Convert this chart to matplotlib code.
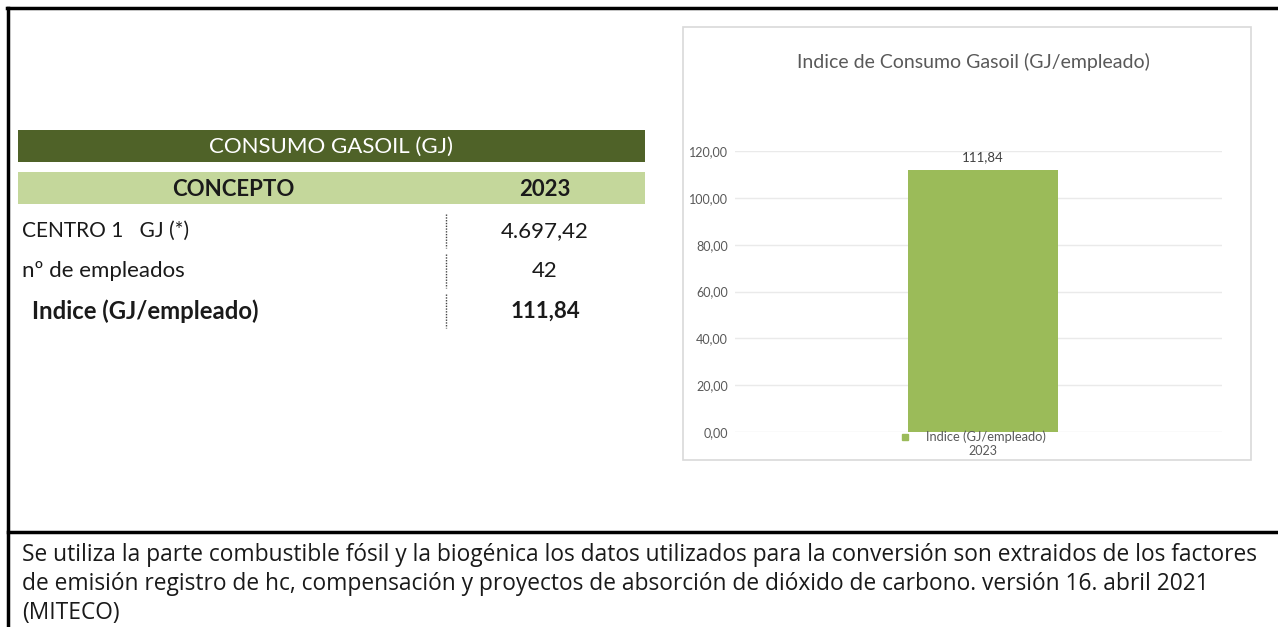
import matplotlib
matplotlib.use("Agg")
import matplotlib.pyplot as plt
from matplotlib.patches import Rectangle
from matplotlib.lines import Line2D

W, H = 1278, 627
plt.rcParams['font.family'] = ['Lato', 'DejaVu Sans']

# ---- data ----
table_title = "CONSUMO GASOIL (GJ)"
col_headers = ["CONCEPTO", "2023"]
row_labels = ["CENTRO 1   GJ (*)", "nº de empleados", "Indice (GJ/empleado)"]
row_values = ["4.697,42", "42", "111,84"]
chart_title = "Indice de Consumo Gasoil (GJ/empleado)"
categories = ["2023"]
series_name = "Indice (GJ/empleado)"
values = [111.84]
yticks = [0, 20, 40, 60, 80, 100, 120]
footnote = ("Se utiliza la parte combustible fósil y la biogénica los datos utilizados para la conversión son extraidos de los factores\n"
            "de emisión registro de hc, compensación y proyectos de absorción de dióxido de carbono. versión 16. abril 2021\n"
            "(MITECO)")

fig = plt.figure(figsize=(W / 100, H / 100), dpi=100)
fig.patch.set_facecolor("white")

def fx(x):
    return x / W

def fy(y):
    return 1 - y / H

# outer black frame lines
for (x0, y0, x1, y1) in [(7, 8, W, 8), (8, 8, 8, H), (8, 532, W, 532)]:
    fig.add_artist(Line2D([fx(x0), fx(x1)], [fy(y0), fy(y1)], color="black", lw=2.5,
                          transform=fig.transFigure))

# ---- table ----
TFS = 16
fig.add_artist(Rectangle((fx(18), fy(162)), fx(645) - fx(18), fy(130) - fy(162),
                         facecolor="#4F6228", edgecolor="none", transform=fig.transFigure))
fig.text(fx(331), fy(147), table_title, color="white", fontsize=TFS, ha="center", va="center")
fig.add_artist(Rectangle((fx(18), fy(204)), fx(645) - fx(18), fy(172) - fy(204),
                         facecolor="#C4D79B", edgecolor="none", transform=fig.transFigure))
fig.text(fx(233), fy(189), col_headers[0], color="#1a1a1a", fontsize=TFS, ha="center", va="center",
         fontweight="bold")
fig.text(fx(545), fy(189), col_headers[1], color="#1a1a1a", fontsize=TFS, ha="center", va="center",
         fontweight="bold")

row_y = [231, 271, 311]
row_fs = [15, 16, 17.2]
for i, (lab, val) in enumerate(zip(row_labels, row_values)):
    bold = (i == 2)
    fig.text(fx(32 if bold else 22), fy(row_y[i]), lab, color="#1a1a1a", fontsize=row_fs[i],
             ha="left", va="center", fontweight="bold" if bold else "normal")
    fig.text(fx(545), fy(row_y[i]), val, color="#1a1a1a", fontsize=TFS,
             ha="center", va="center", fontweight="bold" if bold else "normal")
    fig.add_artist(Line2D([fx(446), fx(446)], [fy(row_y[i] - 17), fy(row_y[i] + 17)],
                          color="#444444", lw=1.0, ls=(0, (1, 1)), transform=fig.transFigure))

# ---- chart box ----
box = Rectangle((fx(683), fy(460)), fx(1251) - fx(683), fy(27) - fy(460),
                facecolor="white", edgecolor="#D9D9D9", lw=1.2, transform=fig.transFigure,
                zorder=-5)
fig.add_artist(box)
fig.text(fx(973), fy(62), chart_title, color="#595959", fontsize=14, ha="center", va="center")

ax = fig.add_axes([fx(735), fy(432), fx(1222) - fx(735), fy(151) - fy(432)])
ax.set_zorder(5)
ax.set_facecolor("none")
ax.patch.set_alpha(0)
xpos = list(range(len(categories)))
ax.bar(xpos, values, width=1.0, color="#9BBB59", zorder=3)
ax.set_xlim(-1.653, 1.593)
ax.set_ylim(0, 120)
ax.set_yticks(yticks)
ax.set_yticklabels([f"{v:.2f}".replace(".", ",") for v in yticks], color="#595959", fontsize=9)
ax.tick_params(axis="y", length=0, pad=5)
ax.set_xticks([])
ax.grid(axis="y", color="#EAEAEA", lw=1, zorder=0)
for s in ax.spines.values():
    s.set_visible(False)
for x, v in zip(xpos, values):
    ax.text(x, v + 3.0, f"{v:.2f}".replace(".", ","), ha="center", va="bottom",
            color="#404040", fontsize=9.5, clip_on=False)
# legend-like label and category label under bar
ax.text(xpos[0] + 0.02, -2.2, series_name, ha="center", va="center", color="#595959", fontsize=9.3,
        clip_on=False)
ax.plot([xpos[0] - 0.52], [-2.2], marker="s", ms=5, color="#9BBB59", clip_on=False, ls="none")
ax.text(xpos[0], -8.2, categories[0], ha="center", va="center", color="#595959", fontsize=9,
        clip_on=False)

# ---- footnote ----
fig.text(fx(22), fy(543), footnote, color="#1a1a1a", fontsize=16.4, ha="left", va="top",
         linespacing=1.29, family=["Open Sans", "DejaVu Sans"])

fig.savefig("out.png", dpi=100)
